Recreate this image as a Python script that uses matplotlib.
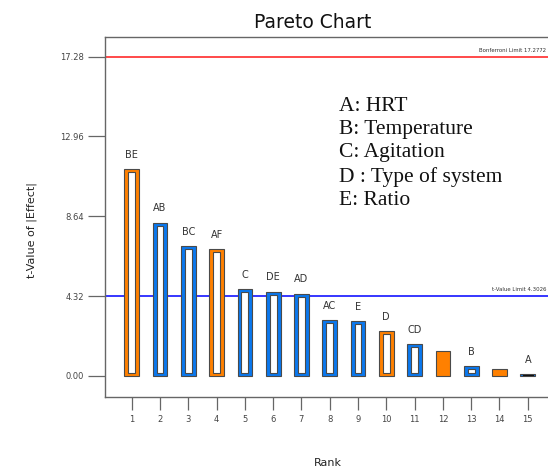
import numpy as np
import matplotlib.pyplot as plt

# effects sorted by |t|, ranks 1..15
ranks = np.arange(1, 16)
t_values = [11.19, 8.29, 7.04, 6.86, 4.70, 4.56, 4.45, 3.04, 2.95, 2.42, 1.71, 1.35, 0.54, 0.39, 0.11]
labels = ["BE", "AB", "BC", "AF", "C", "DE", "AD", "AC", "E", "D", "CD", "", "B", "", "A"]
signs = ["neg", "pos", "pos", "neg", "pos", "pos", "pos", "pos", "pos", "neg", "pos", "neg", "pos", "neg", "pos"]
hollow = [True] * 11 + [False, True, False, True]

bonferroni = 17.2772
t_limit = 4.3026
y_ticks = [0.00, 4.32, 8.64, 12.96, 17.28]
factors = ["A: HRT", "B: Temperature", "C: Agitation", "D : Type of system", "E: Ratio"]

ORANGE = "#ff8000"
BLUE = "#0a78ef"
EDGE = "#4a4a4a"

fig = plt.figure(figsize=(5.48, 4.68), dpi=100)
ax = fig.add_axes([105/548, 1 - 397/468, (560 - 105)/548, (397 - 37)/468])

# limit lines
ax.axhline(bonferroni, color="#ff3b3b", lw=1.3, zorder=1)
ax.axhline(t_limit, color="#0000ff", lw=1.1, zorder=1)
fig.text(546/548, 1 - 53/468, "Bonferroni Limit 17.2772", fontsize=3.9, ha="right", va="bottom", color="#333")
fig.text(546/548, 1 - 292/468, "t-Value Limit 4.3026", fontsize=3.9, ha="right", va="bottom", color="#333")

inset = 0.16
for r, v, lab, s, h in zip(ranks, t_values, labels, signs, hollow):
    col = ORANGE if s == "neg" else BLUE
    ax.bar(r, v, width=0.52, color=col, edgecolor=EDGE, lw=0.8, zorder=2)
    if h:
        if v > 2 * inset:
            ax.bar(r, v - 2 * inset, bottom=inset, width=0.24, color="white", edgecolor=EDGE, lw=0.8, zorder=3)
        else:
            ax.plot([r - 0.18, r + 0.18], [v / 2, v / 2], color="#111", lw=0.8, zorder=3)
    if lab:
        ax.text(r, v + 0.5, lab, ha="center", va="bottom", fontsize=7, color="#333")

ax.set_xlim(0.056, 16.14)
ax.set_ylim(-1.14, 18.34)
ax.set_xticks(ranks)
ax.set_yticks(y_ticks)
ax.set_yticklabels(["%.2f" % t for t in y_ticks])
ax.tick_params(axis="y", length=12, width=0.9, color="#666", labelsize=6, labelcolor="#444", pad=3)
ax.tick_params(axis="x", length=9, width=0.9, color="#666", labelsize=6, labelcolor="#444", pad=4)
for sp in ["left", "bottom", "top"]:
    ax.spines[sp].set_color("#666")
    ax.spines[sp].set_linewidth(1.0)
ax.spines["right"].set_visible(False)

fig.text(313/548, 1 - 22/468, "Pareto Chart", ha="center", va="center", fontsize=13.5, color="#111")
fig.text(32/548, 1 - 230/468, "t-Value of |Effect|", rotation=90, ha="center", va="center", fontsize=8, color="#222")
fig.text(328/548, 1 - 463/468, "Rank", ha="center", va="center", fontsize=8, color="#222")

fig.text(339/548, 1 - 97/468, "\n".join(factors), ha="left", va="top", fontsize=15.5,
         family="Liberation Serif", linespacing=1.3, color="#111")

fig.savefig("out.png", dpi=100)
